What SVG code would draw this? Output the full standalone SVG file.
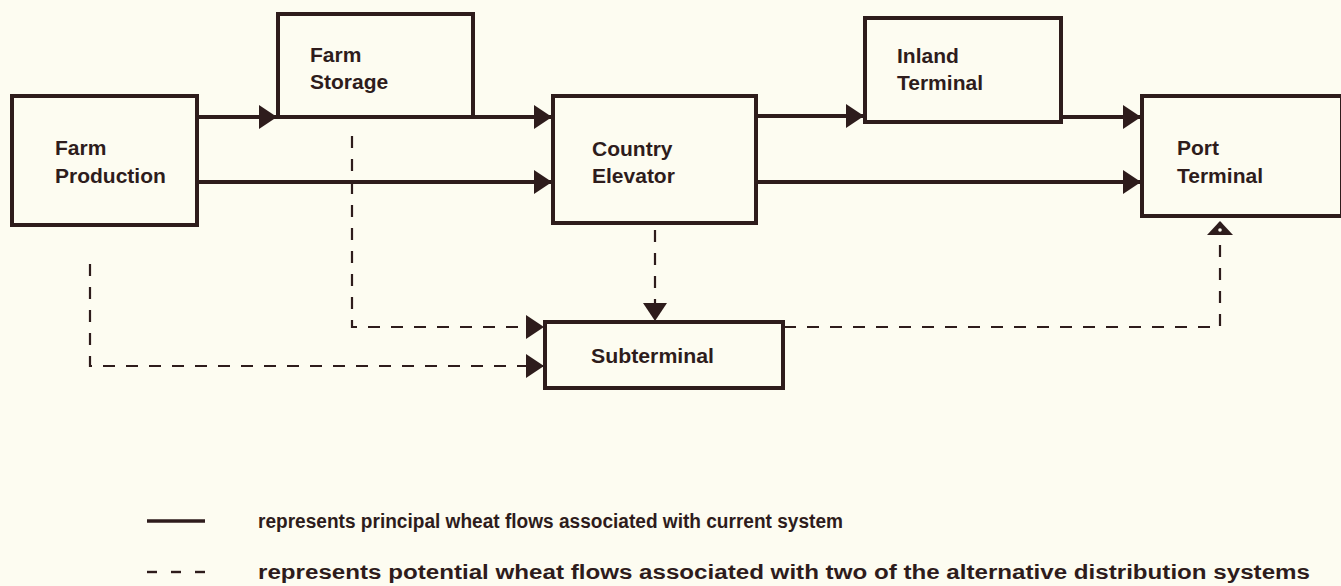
<svg xmlns="http://www.w3.org/2000/svg" width="1341" height="586" viewBox="0 0 1341 586">
<style>
.bg{fill:#fdfcf1}
.box{fill:none;stroke:#2e1c1c;stroke-width:4}
.lbl{font-family:"Liberation Sans",Arial,sans-serif;font-weight:bold;font-size:21px;fill:#2e1c1c}
.leg{font-family:"Liberation Sans",Arial,sans-serif;font-weight:bold;font-size:20px;fill:#2e1c1c}
.solid{fill:none;stroke:#2e1c1c;stroke-width:4}
.dash{fill:none;stroke:#2e1c1c;stroke-width:2.2;stroke-dasharray:12 11}
.legdash{stroke:#2e1c1c;stroke-width:2.4}
</style>
<defs>
<marker id="ah" markerUnits="userSpaceOnUse" markerWidth="22" markerHeight="26" refX="18" refY="12" orient="auto">
<path d="M0,0 L18,12 L0,24 z" fill="#2e1c1c"/>
</marker>
<marker id="ahs" markerUnits="userSpaceOnUse" markerWidth="18" markerHeight="28" refX="14" refY="13" orient="auto">
<path d="M0,0 L14,13 L0,26 z" fill="#2e1c1c"/>
<circle cx="5" cy="13" r="1.8" fill="#fdfcf1"/>
</marker>
</defs>
<rect class="bg" x="0" y="0" width="1341" height="586"/>

<g id="connectors">
<path class="solid" d="M197,117 H277" marker-end="url(#ah)"/>
<path class="solid" d="M473,117 H552" marker-end="url(#ah)"/>
<path class="solid" d="M197,182 H552" marker-end="url(#ah)"/>
<path class="solid" d="M756,116 H864" marker-end="url(#ah)"/>
<path class="solid" d="M1061,117 H1141" marker-end="url(#ah)"/>
<path class="solid" d="M756,182 H1141" marker-end="url(#ah)"/>
<path class="dash" d="M352,136 V327 H544" marker-end="url(#ah)"/>
<path class="dash" d="M90,264 V366 H544" marker-end="url(#ah)"/>
<path class="dash" d="M655,230 V321" marker-end="url(#ah)"/>
<path class="dash" d="M784,327 H1220 V221" marker-end="url(#ahs)"/>
</g>

<g id="farm-production">
<rect class="box" x="12" y="96" width="185" height="129"/>
<text class="lbl" x="55" y="155">Farm</text>
<text class="lbl" x="55" y="183">Production</text>
</g>
<g id="farm-storage">
<rect class="box" x="278" y="14" width="195" height="103"/>
<text class="lbl" x="310" y="62">Farm</text>
<text class="lbl" x="310" y="89">Storage</text>
</g>
<g id="country-elevator">
<rect class="box" x="553" y="96" width="203" height="127"/>
<text class="lbl" x="592" y="156">Country</text>
<text class="lbl" x="592" y="183">Elevator</text>
</g>
<g id="inland-terminal">
<rect class="box" x="865" y="18" width="196" height="104"/>
<text class="lbl" x="897" y="63">Inland</text>
<text class="lbl" x="897" y="90">Terminal</text>
</g>
<g id="port-terminal">
<rect class="box" x="1142" y="96" width="200" height="120"/>
<text class="lbl" x="1177" y="155">Port</text>
<text class="lbl" x="1177" y="183">Terminal</text>
</g>
<g id="subterminal">
<rect class="box" x="545" y="322" width="238" height="66"/>
<text class="lbl" x="591" y="363" textLength="123" lengthAdjust="spacingAndGlyphs">Subterminal</text>
</g>

<g id="legend">
<line x1="147" y1="521" x2="205" y2="521" stroke="#2e1c1c" stroke-width="3.5"/>
<text class="leg" x="258" y="528" textLength="585" lengthAdjust="spacingAndGlyphs">represents principal wheat flows associated with current system</text>
<line class="legdash" x1="147" y1="572" x2="157" y2="572"/>
<line class="legdash" x1="171" y1="572" x2="181" y2="572"/>
<line class="legdash" x1="195" y1="572" x2="205" y2="572"/>
<text class="leg" x="258" y="579" textLength="1052" lengthAdjust="spacingAndGlyphs">represents potential wheat flows associated with two of the alternative distribution systems</text>
</g>
</svg>
